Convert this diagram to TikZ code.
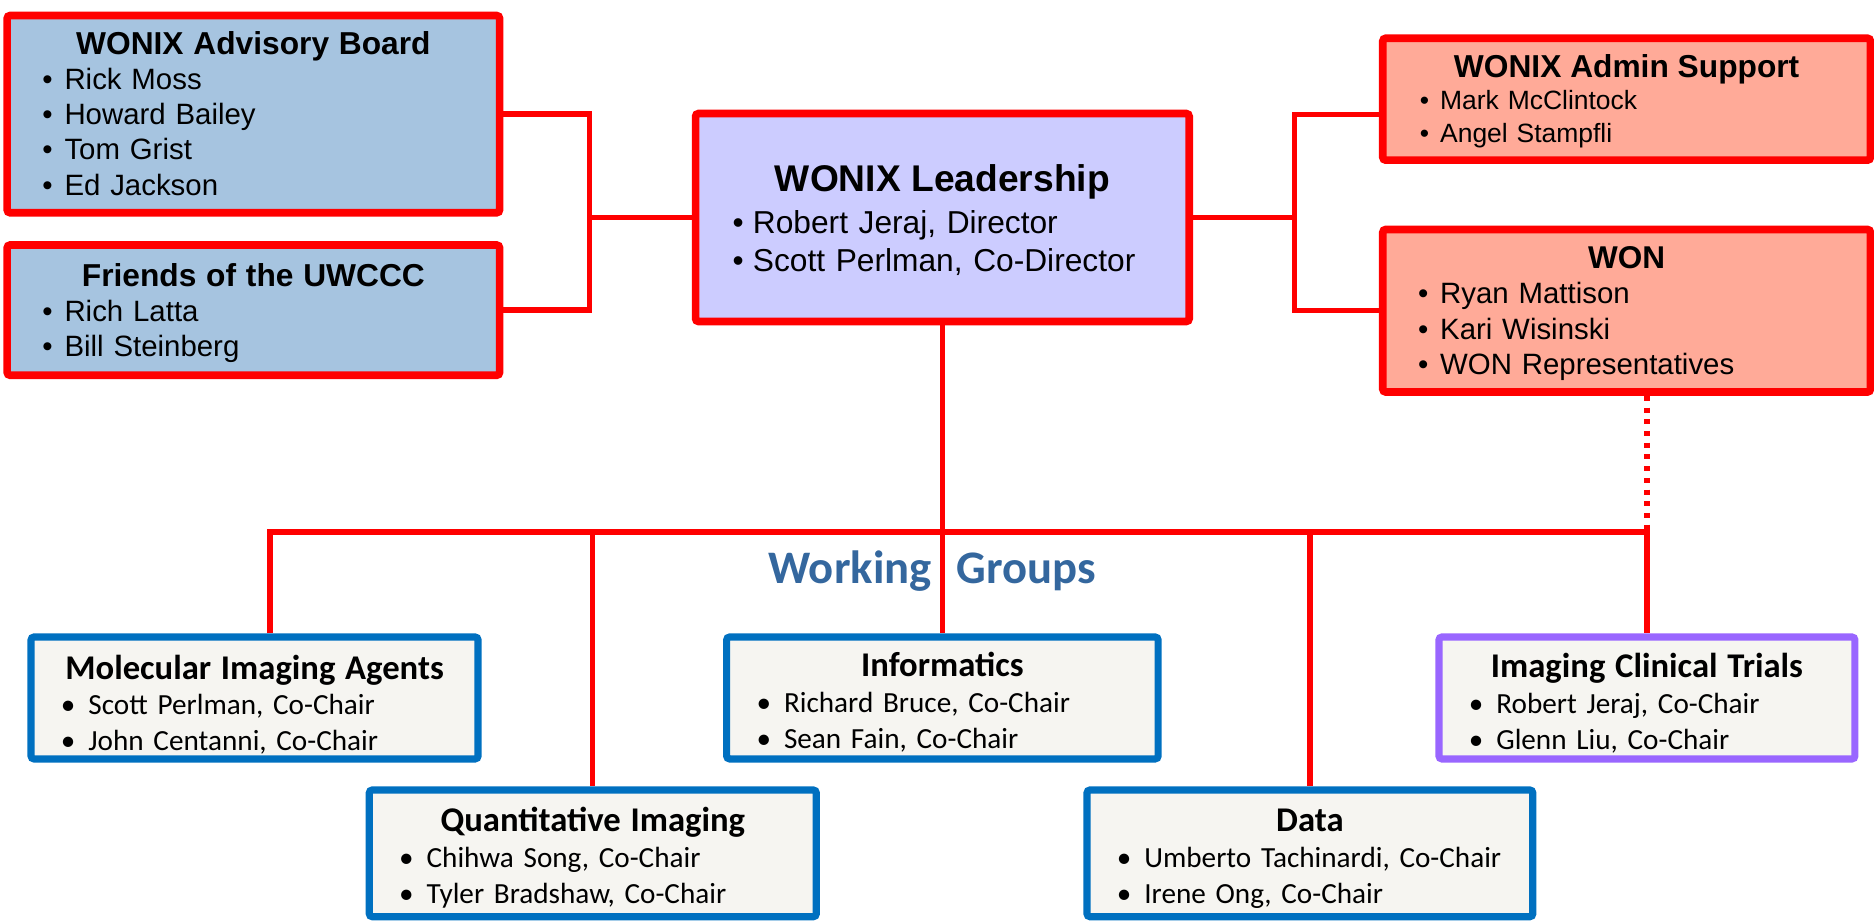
\documentclass[tikz,border=0pt]{standalone}
\usepackage{fontspec}
\setmainfont{Liberation Sans}
\newfontfamily\carlito{Carlito}
\usetikzlibrary{positioning, backgrounds, calc}

\definecolor{orgred}{RGB}{255,0,0}
\definecolor{advfill}{RGB}{166,196,224}
\definecolor{leadfill}{RGB}{204,204,255}
\definecolor{admfill}{RGB}{255,170,152}
\definecolor{grpfill}{RGB}{246,245,241}
\definecolor{grpblue}{RGB}{0,112,192}
\definecolor{grppurple}{RGB}{153,102,255}
\definecolor{wgblue}{RGB}{52,103,158}

\newlength{\bulsh}
% title line, centred, with a fixed height; then one bullet line per item
\newcommand{\boxttl}[3][4.8mm]{{\bfseries\fontsize{#2}{#2}\selectfont\makebox[\linewidth][c]{\rule{0pt}{#1}#3}\par}}
\newcommand{\bul}[1]{\mbox{\rule[-1.2mm]{0pt}{1.2mm}\makebox[3.4mm][l]{\hspace{\bulsh}\textbullet}#1}\par}

\begin{document}
\begin{tikzpicture}[x=0.2mm, y=-0.2mm,
    topbox/.style={draw=orgred, line width=1.28mm, rounded corners=0.5mm, inner xsep=6.2mm, inner ysep=0pt,
        font=\fontsize{14pt}{16.7pt}\selectfont\setlength{\bulsh}{-0.3mm}},
    grpbox/.style={draw=grpblue, fill=grpfill, line width=1.2mm, rounded corners=0.5mm, inner xsep=6.2mm, inner ysep=0pt,
        font=\carlito\fontsize{13.9pt}{17pt}\selectfont\setlength{\bulsh}{-1.2mm}},
    link/.style={draw=orgred, line width=0.9mm},
    dotlink/.style={link, dash pattern=on 0.84mm off 1.12mm}]
    \useasboundingbox (0,0) rectangle (1568,772);

    % top row
    \node[topbox, fill=advfill, text width=70mm, minimum height=33mm] (adv) at (212,95.5)
        {\boxttl{15.1pt}{WONIX Advisory Board}\bul{Rick Moss}\bul{Howard Bailey}\bul{Tom Grist}\bul{Ed Jackson}};
    \node[topbox, fill=advfill, text width=70mm, minimum height=21.8mm] (fri) at (212,259.5)
        {\boxttl[5mm]{15.1pt}{Friends of the UWCCC}\bul{Rich Latta}\bul{Bill Steinberg}};
    \node[topbox, fill=leadfill, text width=70.2mm, minimum height=34.8mm, font=\fontsize{15.1pt}{18.2pt}\selectfont] (lead) at (788.5,182)
        {\boxttl[5.8mm]{17.7pt}{WONIX Leadership}\vspace{0.6mm}\bul{Robert Jeraj, Director}\bul{Scott Perlman, Co-Director}};
    \node[topbox, fill=admfill, text width=69.2mm, minimum height=20.4mm, font=\fontsize{12.6pt}{15.4pt}\selectfont] (adm) at (1361,83)
        {\boxttl{15.1pt}{WONIX Admin Support}\bul{Mark McClintock}\bul{Angel Stampfli}};
    \node[topbox, fill=admfill, text width=69.2mm, minimum height=27.2mm] (won) at (1361,260)
        {\boxttl{15pt}{WON}\bul{Ryan Mattison}\bul{Kari Wisinski}\bul{WON Representatives}};

    % working groups
    \node[grpbox, text width=62.4mm, minimum height=20.4mm] (mia) at (213,584)
        {\boxttl[6.8mm]{16.5pt}{Molecular Imaging Agents}\bul{Scott Perlman, Co-Chair}\bul{John Centanni, Co-Chair}};
    \node[grpbox, text width=62.4mm, minimum height=21.2mm] (qi) at (496,714)
        {\boxttl[6mm]{16.5pt}{Quantitative Imaging}\bul{Chihwa Song, Co-Chair}\bul{Tyler Bradshaw, Co-Chair}};
    \node[grpbox, text width=59.8mm, minimum height=20.4mm] (inf) at (788.5,584)
        {\boxttl[6mm]{16.5pt}{Informatics}\bul{Richard Bruce, Co-Chair}\bul{Sean Fain, Co-Chair}};
    \node[grpbox, text width=62.2mm, minimum height=21.2mm] (data) at (1096,714)
        {\boxttl[6mm]{16.5pt}{Data}\bul{Umberto Tachinardi, Co-Chair}\bul{Irene Ong, Co-Chair}};
    \node[grpbox, draw=grppurple, text width=57.2mm, minimum height=20.4mm] (ict) at (1378,584)
        {\boxttl[6.4mm]{16.5pt}{Imaging Clinical Trials}\bul{Robert Jeraj, Co-Chair}\bul{Glenn Liu, Co-Chair}};

    \node[anchor=base, text=wgblue, font=\carlito\bfseries\fontsize{22.2pt}{22.2pt}\selectfont] (wg) at (780,488)
        {Working\hspace{4.2mm}Groups};

    \coordinate (ljoin) at (493,176);
    \coordinate (rjoin) at (1083,178);
    \coordinate (bus) at (788.5,445);

    \begin{scope}[on background layer]
        \draw[link] (adv.east) -| (ljoin) |- (fri.east);
        \draw[link] (lead.west) -- (lead.west -| ljoin);
        \draw[link] ([yshift=-2.6mm]adm.west) -| (rjoin) |- (won.west);
        \draw[link] (lead.east) -- (lead.east -| rjoin);
        \draw[link] (lead.south) -- (bus);
        \draw[link] ([xshift=2.6mm]mia.north) |- (bus) -| (ict.north);
        \draw[link] (bus -| qi.north) -- (qi.north);
        \draw[link] (bus) -- (inf.north);
        \draw[link] (bus -| data.north) -- (data.north);
        \draw[dotlink] (won.south -| ict.north) -- (bus -| ict.north);
    \end{scope}
\end{tikzpicture}
\end{document}
